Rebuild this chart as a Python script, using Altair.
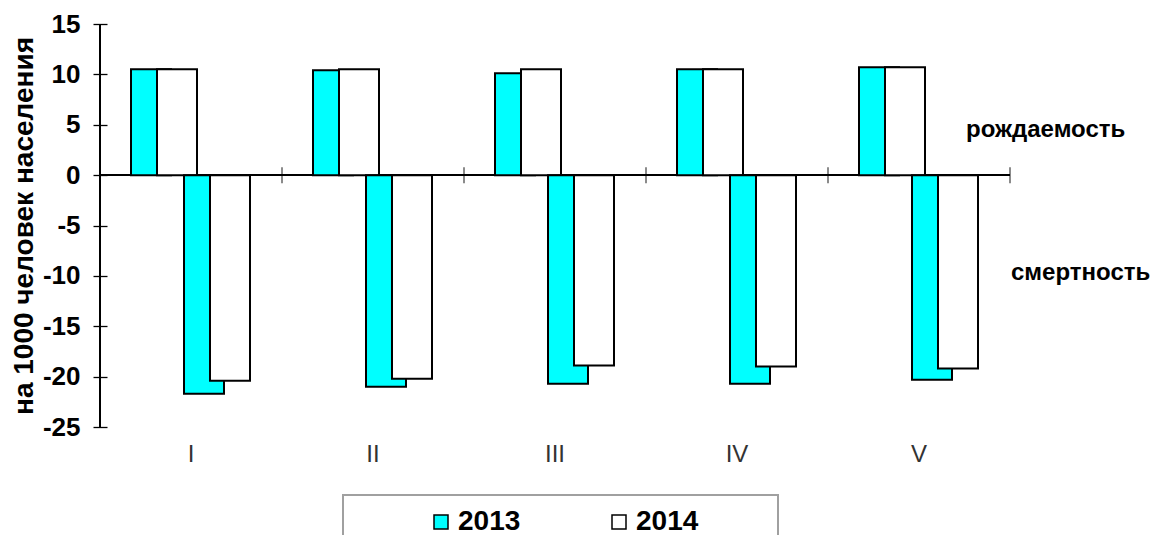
import altair as alt
import pandas as pd

categories = ["I", "II", "III", "IV", "V"]
years = ["2013", "2014"]
birth_2013 = [10.5, 10.4, 10.1, 10.5, 10.7]
birth_2014 = [10.5, 10.5, 10.5, 10.5, 10.7]
death_2013 = [-21.7, -21.0, -20.7, -20.7, -20.3]
death_2014 = [-20.4, -20.2, -18.9, -19.0, -19.2]
y_ticks = [15, 10, 5, 0, -5, -10, -15, -20, -25]
colors = ["#00FFFF", "#FFFFFF"]

rows = []
for i, c in enumerate(categories):
    rows.append(dict(cat=c, kind="birth", year="2013", value=birth_2013[i]))
    rows.append(dict(cat=c, kind="birth", year="2014", value=birth_2014[i]))
    rows.append(dict(cat=c, kind="death", year="2013", value=death_2013[i]))
    rows.append(dict(cat=c, kind="death", year="2014", value=death_2014[i]))
df = pd.DataFrame(rows)

labels_df = pd.DataFrame({
    "text": ["рождаемость", "смертность"],
    "yv": [3.8, -10.4],
})

W, H = 910, 403
FONT = "Liberation Sans"

x_enc = alt.X(
    "cat:N",
    scale=alt.Scale(domain=categories, paddingInner=0, paddingOuter=0),
    axis=alt.Axis(title=None, labelAngle=0, domain=False, ticks=False, grid=False,
                  labelFontSize=24, labelColor="#333333", labelFont=FONT,
                  labelPadding=15),
)
y_enc = alt.Y(
    "value:Q",
    scale=alt.Scale(domain=[-25, 15], nice=False, zero=False),
    axis=alt.Axis(values=y_ticks, title="на 1000 человек населения",
                  offset=-7, tickSize=14, tickColor="black", tickWidth=1.3,
                  domain=False, grid=False,
                  labelFontSize=26, labelFontWeight="bold", labelFont=FONT,
                  labelColor="black", labelPadding=13,
                  labelExpr="toString(datum.value)",
                  titleFontSize=28, titleFontWeight="bold", titleFont=FONT,
                  titleColor="black", titlePadding=4),
)
color_enc = alt.Color(
    "year:N",
    scale=alt.Scale(domain=years, range=colors),
    legend=alt.Legend(title=None, orient="none", legendX=327, legendY=484,
                      direction="horizontal", columns=2, columnPadding=84,
                      symbolType="square", symbolSize=196,
                      symbolStrokeColor="black", symbolStrokeWidth=1.5,
                      symbolOffset=0, labelOffset=3,
                      labelFontSize=28, labelFontWeight="bold", labelFont=FONT,
                      labelColor="black", padding=0),
)

offsets = {("birth", "2013"): -40, ("birth", "2014"): -14,
           ("death", "2013"): 13, ("death", "2014"): 39}

layers = []
for (kind, yr), off in offsets.items():
    layers.append(
        alt.Chart(df)
        .transform_filter((alt.datum.kind == kind) & (alt.datum.year == yr))
        .mark_bar(width=40, xOffset=off, stroke="black", strokeWidth=2)
        .encode(x=x_enc, y=y_enc, color=color_enc)
    )

base = alt.Chart(df)
zero_rule = base.mark_rule(color="black", strokeWidth=1.3).encode(y=alt.datum(0))
y_line = base.mark_rule(color="black", strokeWidth=1.5).encode(
    x=alt.value(0), y=alt.value(0), y2=alt.value(H))
cat_ticks = (
    alt.Chart(pd.DataFrame({"cat": categories}))
    .mark_tick(xOffset=W / 10, size=16, thickness=1.3, color="black", orient="vertical")
    .encode(x=alt.X("cat:N"), y=alt.datum(0))
)
side1 = (
    alt.Chart(labels_df.iloc[[0]])
    .mark_text(align="left", baseline="alphabetic", fontSize=24, fontWeight="bold",
               font=FONT, color="black", dx=866)
    .encode(text="text:N", y=alt.Y("yv:Q"), x=alt.value(0))
)
side2 = (
    alt.Chart(labels_df.iloc[[1]])
    .mark_text(align="left", baseline="alphabetic", fontSize=24, fontWeight="bold",
               font=FONT, color="black", dx=911)
    .encode(text="text:N", y=alt.Y("yv:Q"), x=alt.value(0))
)
legend_box = base.mark_rect(fill="white", fillOpacity=0, stroke="#A0A0A0", strokeWidth=2).encode(
    x=alt.value(243), x2=alt.value(678), y=alt.value(471), y2=alt.value(540))

chart = (
    alt.layer(legend_box, zero_rule, *layers, cat_ticks, y_line, side1, side2)
    .properties(width=W, height=H, background="white",
                autosize=alt.AutoSizeParams(type="none"),
                padding={"left": 92, "top": 16, "right": 142, "bottom": 108})
    .configure_view(stroke="transparent", strokeWidth=0)
    .configure_axis(grid=False)
)

chart.save("out.html", embed_options={"renderer": "svg", "actions": False})
